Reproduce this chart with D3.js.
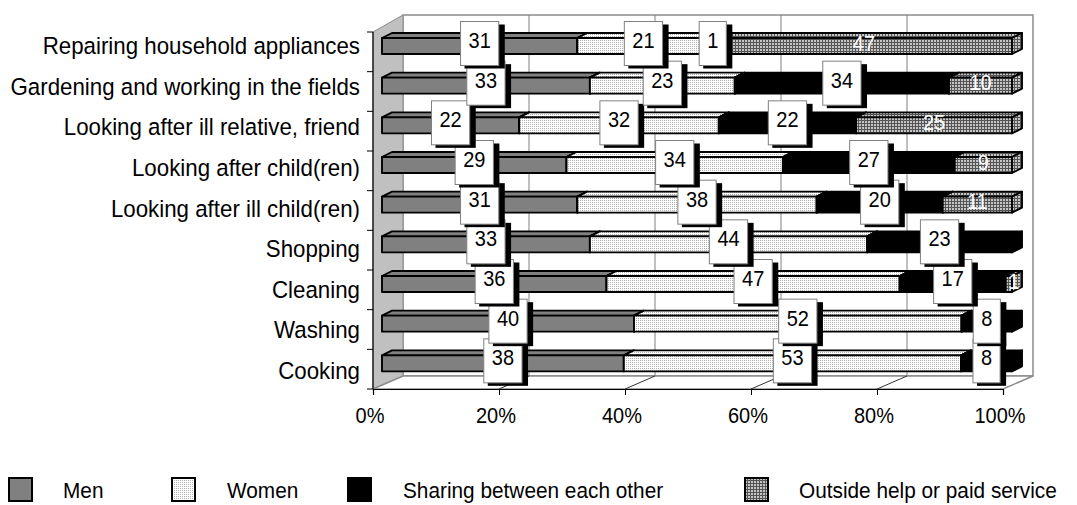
<!DOCTYPE html>
<html><head><meta charset="utf-8">
<script src="https://cdn.jsdelivr.net/npm/d3@7"></script>
<style>
html,body{margin:0;padding:0;background:#fff;}
svg{display:block;font-family:"Liberation Sans",Arial,sans-serif;}
</style></head><body>
<svg id="chart" width="1077" height="505"></svg>
<script>
// Who does the household tasks (percent of answers)
const categories = ["Repairing household appliances", "Gardening and working in the fields",
  "Looking after ill relative, friend", "Looking after child(ren)", "Looking after ill child(ren)",
  "Shopping", "Cleaning", "Washing", "Cooking"];
const seriesNames = ["Men", "Women", "Sharing between each other", "Outside help or paid service"];
const men      = [31, 33, 22, 29, 31, 33, 36, 40, 38];
const women    = [21, 23, 32, 34, 38, 44, 47, 52, 53];
const sharing  = [1, 34, 22, 27, 20, 23, 17, 8, 8];
const outside  = [47, 10, 25, 9, 11, 0, 1, 0, 0];
const tickValues = [0, 0.2, 0.4, 0.6, 0.8, 1];
const tickLabels = ["0%", "20%", "40%", "60%", "80%", "100%"];

const rows = categories.map((c, i) => ({
  category: c,
  [seriesNames[0]]: men[i], [seriesNames[1]]: women[i],
  [seriesNames[2]]: sharing[i], [seriesNames[3]]: outside[i]
}));

const svg = d3.select("#chart");
const TALL = 1.1; // glyphs are drawn slightly taller than wide

// pseudo-3D frame geometry
const plot = {left: 373, right: 1003, top: 32, bottom: 389};
const depth = {dx: 30, dyFloor: 13, dyTop: 17};
const bar = {offX: 9, inset: 6, h: 16, dx: 10, dy: 5};

const x = d3.scaleLinear().domain([0, 1]).range([plot.left, plot.right]);
const y = d3.scaleBand().domain(categories).range([plot.top, plot.bottom]);
// category captions sit on a slightly wider pitch than the bars
const yCaption = d3.scalePoint().domain(categories).range([54, 379]);

// text helper: anchor at (tx, ty) baseline, stretched vertically
function tallText(g, tx, ty, str, size, anchor, fill) {
  return g.append("text")
    .attr("transform", `translate(${tx},${ty}) scale(1,${TALL})`)
    .attr("text-anchor", anchor).attr("font-size", size).attr("fill", fill).text(str);
}

// fill patterns
const defs = svg.append("defs");
const pDots = defs.append("pattern").attr("id", "pWomen").attr("patternUnits", "userSpaceOnUse")
  .attr("width", 2).attr("height", 2);
pDots.append("rect").attr("width", 2).attr("height", 2).attr("fill", "#ffffff");
pDots.append("rect").attr("width", 1).attr("height", 1).attr("fill", "#b0b0b0");
const pGrid = defs.append("pattern").attr("id", "pOutside").attr("patternUnits", "userSpaceOnUse")
  .attr("width", 3).attr("height", 3);
pGrid.append("rect").attr("width", 3).attr("height", 3).attr("fill", "#c4c4c4");
pGrid.append("rect").attr("width", 3).attr("height", 1).attr("fill", "#555555");
pGrid.append("rect").attr("width", 1).attr("height", 3).attr("fill", "#555555");

const color = d3.scaleOrdinal().domain(seriesNames)
  .range(["#808080", "url(#pWomen)", "#000000", "url(#pOutside)"]);

const poly = pts => "M" + pts.map(p => p.join(",")).join("L") + "Z";

// walls and floor
const backL = plot.left + depth.dx, backR = plot.right + depth.dx;
const backTop = plot.top - depth.dyTop, backBottom = plot.bottom - depth.dyFloor;
svg.append("path").attr("d", poly([[backL, backTop], [backR, backTop], [backR, backBottom], [backL, backBottom]]))
  .attr("fill", "#fff").attr("stroke", "#8c8c8c").attr("stroke-width", 1.5);
svg.append("path").attr("d", poly([[plot.left, plot.top], [backL, backTop], [backL, backBottom], [plot.left, plot.bottom]]))
  .attr("fill", "#c0c0c0").attr("stroke", "#8c8c8c").attr("stroke-width", 1);
svg.append("path").attr("d", poly([[plot.left, plot.bottom], [plot.right, plot.bottom], [backR, backBottom], [backL, backBottom]]))
  .attr("fill", "#fff").attr("stroke", "#8c8c8c").attr("stroke-width", 1.5);

// gridlines on back wall and floor
const inner = tickValues.slice(1, -1);
svg.append("g").selectAll("line").data(inner).join("line")
  .attr("x1", d => x(d) + depth.dx).attr("x2", d => x(d) + depth.dx)
  .attr("y1", backTop).attr("y2", backBottom)
  .attr("stroke", "#808080").attr("stroke-width", 1);
svg.append("g").selectAll("line").data(inner).join("line")
  .attr("x1", d => x(d)).attr("x2", d => x(d) + depth.dx)
  .attr("y1", plot.bottom).attr("y2", backBottom)
  .attr("stroke", "#333").attr("stroke-width", 1);

// axes
const xAxis = svg.append("g").attr("transform", `translate(0,${plot.bottom})`)
  .call(d3.axisBottom(x).tickValues(tickValues).tickFormat("").tickSize(6));
xAxis.select(".domain").attr("stroke", "#000").attr("stroke-width", 1.2);
xAxis.selectAll(".tick line").attr("stroke", "#000");
const gTick = svg.append("g");
tickValues.forEach((v, i) => tallText(gTick, x(v) - 3, 423, tickLabels[i], 20, "middle", "#000"));

svg.append("line").attr("x1", plot.left).attr("x2", plot.left).attr("y1", plot.top).attr("y2", plot.bottom)
  .attr("stroke", "#000").attr("stroke-width", 1.2);
const bounds = categories.map(c => y(c)).concat([plot.bottom]);
svg.append("g").selectAll("line").data(bounds).join("line")
  .attr("x1", plot.left - 6).attr("x2", plot.left).attr("y1", d => d).attr("y2", d => d)
  .attr("stroke", "#000");
const gCat = svg.append("g");
categories.forEach(c => tallText(gCat, plot.left - 13, yCaption(c), c, 22.3, "end", "#000"));

// stacked 3D bars
const stacked = d3.stack().keys(seriesNames).offset(d3.stackOffsetExpand)(rows);
const xb = v => x(v) + bar.offX;
const faceTop = c => y(c) + bar.inset;

const gBars = svg.append("g");
categories.forEach((c, ci) => {
  const segs = stacked.map(s => ({key: s.key, x0: s[ci][0], x1: s[ci][1], v: s[ci].data[s.key]}))
    .filter(d => d.v > 0);
  const g = gBars.append("g");
  segs.forEach(d => {
    const a = xb(d.x0), b = xb(d.x1), t = faceTop(c);
    const st = {fill: color(d.key), stroke: "#000", "stroke-width": 1.9, "stroke-linejoin": "round"};
    const add = pts => { const p = g.append("path").attr("d", poly(pts)); Object.entries(st).forEach(([k, v]) => p.attr(k, v)); };
    add([[a, t], [b, t], [b + bar.dx, t - bar.dy], [a + bar.dx, t - bar.dy]]);
    add([[a, t], [b, t], [b, t + bar.h], [a, t + bar.h]]);
    add([[b, t], [b + bar.dx, t - bar.dy], [b + bar.dx, t + bar.h - bar.dy], [b, t + bar.h]]);
  });
});

// data labels
const gLab = svg.append("g");
const ctx = document.createElement("canvas").getContext("2d");
ctx.font = "20px 'Liberation Sans'";
[...categories.keys()].reverse().forEach(ci => {
  const c = categories[ci];
  stacked.forEach((s, si) => {
    const v = s[ci].data[s.key];
    if (!(v > 0)) return;
    const cx = xb((s[ci][0] + s[ci][1]) / 2);
    const cy = faceTop(c) + bar.h / 2 - 2.5;
    const txt = String(v);
    if (si === 3) {
      tallText(gLab, cx + (s[ci][1] - s[ci][0] < 0.03 ? 5 : 0), faceTop(c) + bar.h / 2 + 4.5, txt, 20, "middle", "#fff");
      return;
    }
    const w = ctx.measureText(txt).width + 16, h = 44;
    gLab.append("rect").attr("x", cx - w / 2 + 4).attr("y", cy - h / 2 + 3).attr("width", w + 2).attr("height", h)
      .attr("fill", "#000");
    gLab.append("rect").attr("x", cx - w / 2).attr("y", cy - h / 2).attr("width", w).attr("height", h)
      .attr("fill", "#fff").attr("stroke", "#808080").attr("stroke-width", 1);
    tallText(gLab, cx, cy + 4.5, txt, 20, "middle", "#000");
  });
});

// legend
const legendPos = [{sq: 9, tx: 63}, {sq: 172, tx: 227}, {sq: 348, tx: 403}, {sq: 745, tx: 799}];
const gLeg = svg.append("g");
seriesNames.forEach((n, i) => {
  gLeg.append("rect").attr("x", legendPos[i].sq).attr("y", 478).attr("width", 23).attr("height", 23)
    .attr("fill", color(n)).attr("stroke", "#000").attr("stroke-width", 2);
  tallText(gLeg, legendPos[i].tx, 498, n, 20.8, "start", "#000");
});
</script>
</body></html>
